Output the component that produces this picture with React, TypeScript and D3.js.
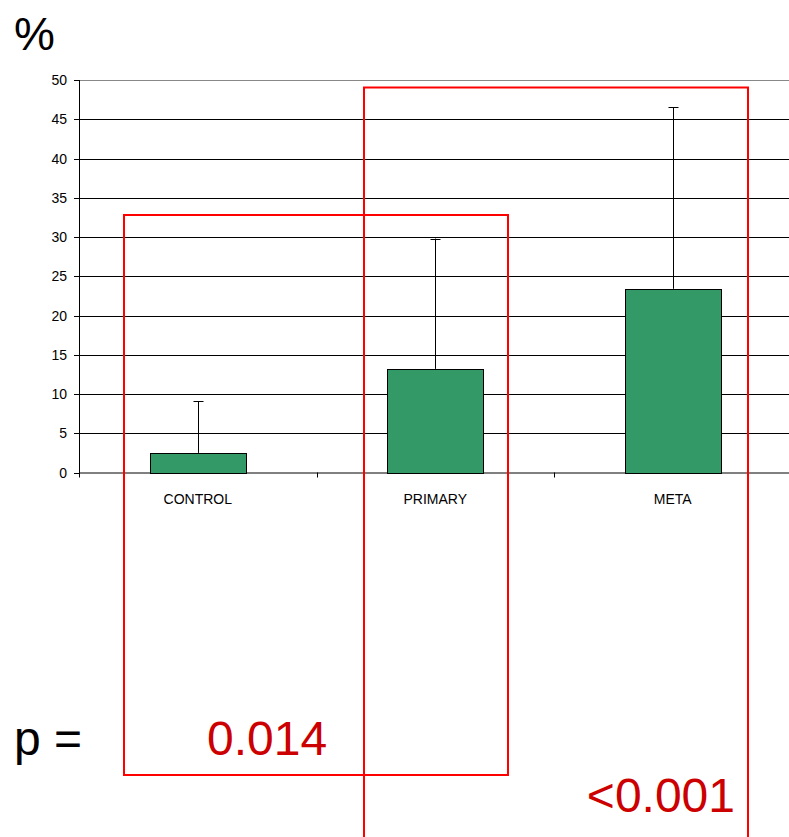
import React from "react";
import * as d3 from "d3";

const categories = ["CONTROL", "PRIMARY", "META"];
const means = [2.5, 13.2, 23.4];
const errorTops = [9.1, 29.8, 46.5];
const yTicks = [0, 5, 10, 15, 20, 25, 30, 35, 40, 45, 50];

export default function App() {
  const W = 789, H = 837;
  const left = 79, right = 791.5, top = 80, bottom = 472.5;
  const x = d3.scaleBand<string>().domain(categories).range([left, right]).paddingInner(0).paddingOuter(0);
  const y = d3.scaleLinear().domain([0, 50]).range([bottom, top]);
  const bw = 96;
  const font = "'Liberation Sans', Arial, sans-serif";
  return (
    <svg width={W} height={H} style={{ position: "absolute", left: 0, top: 0, background: "#fff" }} fontFamily={font}>
      {/* gridlines */}
      {yTicks.filter(t => t > 0).map(t => (
        <line key={t} x1={left} x2={W} y1={Math.round(y(t)) + 0.5} y2={Math.round(y(t)) + 0.5}
          stroke={t === 50 ? "#888" : "#000"} strokeWidth={1} />
      ))}
      {/* y axis */}
      <line x1={left + 0.5} x2={left + 0.5} y1={top} y2={bottom + 0.5} stroke="#000" />
      {yTicks.map(t => (
        <g key={t}>
          <line x1={left - 5} x2={left} y1={Math.round(y(t)) + 0.5} y2={Math.round(y(t)) + 0.5} stroke="#000" />
          <text x={67} y={y(t) + 5} textAnchor="end" fontSize={14} fill="#000">{t}</text>
        </g>
      ))}
      {/* x axis */}
      <line x1={left} x2={W} y1={bottom + 0.5} y2={bottom + 0.5} stroke="#000" />
      {[...categories.map(c => x(c)!), right].map((v, i) => (
        <line key={i} x1={Math.round(v) + 0.5} x2={Math.round(v) + 0.5} y1={bottom} y2={bottom + 5} stroke="#000" />
      ))}
      {/* bars */}
      {categories.map((c, i) => {
        const cx = x(c)! + x.bandwidth() / 2;
        return (
          <g key={c}>
            <line x1={Math.round(cx) + 0.5} x2={Math.round(cx) + 0.5} y1={y(errorTops[i])} y2={y(means[i])} stroke="#000" />
            <line x1={Math.round(cx) - 4.5} x2={Math.round(cx) + 5.5} y1={Math.round(y(errorTops[i])) + 0.5} y2={Math.round(y(errorTops[i])) + 0.5} stroke="#000" />
            <rect x={Math.round(cx - bw / 2) + 0.5} y={Math.round(y(means[i])) + 0.5} width={bw} height={Math.round(y(0)) - Math.round(y(means[i]))}
              fill="#339966" stroke="#000" strokeWidth={1} />
            <text x={cx} y={504} textAnchor="middle" fontSize={14} fill="#000">{c}</text>
          </g>
        );
      })}
      {/* % label */}
      <text x={14} y={50} fontSize={46} fill="#000">%</text>
      {/* red boxes */}
      <rect x={124} y={215} width={384} height={560} fill="none" stroke="#ff0000" strokeWidth={2} />
      <rect x={364} y={87.5} width={384} height={760} fill="none" stroke="#ff0000" strokeWidth={2} />
      {/* p values */}
      <text x={14} y={755} fontSize={48} fill="#000">p =</text>
      <text x={207} y={755} fontSize={48} fill="#cc0000">0.014</text>
      <text x={735} y={812} fontSize={48} fill="#cc0000" textAnchor="end">&lt;0.001</text>
    </svg>
  );
}
